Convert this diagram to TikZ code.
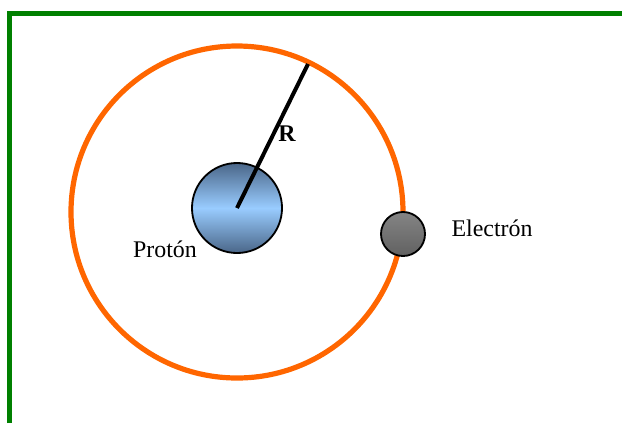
\documentclass[tikz,border=0pt]{standalone}
\usepackage{fontspec}
\setmainfont{Liberation Serif}
\usetikzlibrary{positioning}
\definecolor{frame}{HTML}{008000}
\definecolor{orbit}{HTML}{FF6600}
\definecolor{pdark}{HTML}{4A6688}
\definecolor{plight}{HTML}{99CCFF}
\tikzset{
  proton/.style={circle, draw=black, line width=1.3pt, minimum size=2.25cm, inner sep=0pt,
    top color=pdark, bottom color=pdark, middle color=plight},
  electron/.style={circle, draw=black, line width=1.3pt, minimum size=1.1cm, inner sep=0pt,
    top color=black!48, middle color=black!28, bottom color=black!62},
  label/.style={font=\fontsize{17}{20}\selectfont, inner sep=0pt}
}
\begin{document}
\begin{tikzpicture}[x=0.025cm, y=-0.025cm]
    \useasboundingbox (0,0) rectangle (622,423);
    % frame
    \draw[frame, line width=0.13cm] (9.5,423) -- (9.5,13.5) -- (622,13.5);
    % orbit
    \draw[orbit, line width=0.13cm] (237,212) circle (166);
    \node[proton] (proton) at (237,208) {};
    \node[electron] (electron) at (403,234) {};
    \coordinate (rim) at (308,64);
    \draw[line width=0.1cm] (proton.center) -- (rim);
    \node[label, font=\fontsize{17}{20}\selectfont\bfseries] (r) at (287,134) {R};
    \node[label] (ptext) at (165,249) {Protón};
    \node[label] (etext) at (492,228) {Electrón};
\end{tikzpicture}
\end{document}
